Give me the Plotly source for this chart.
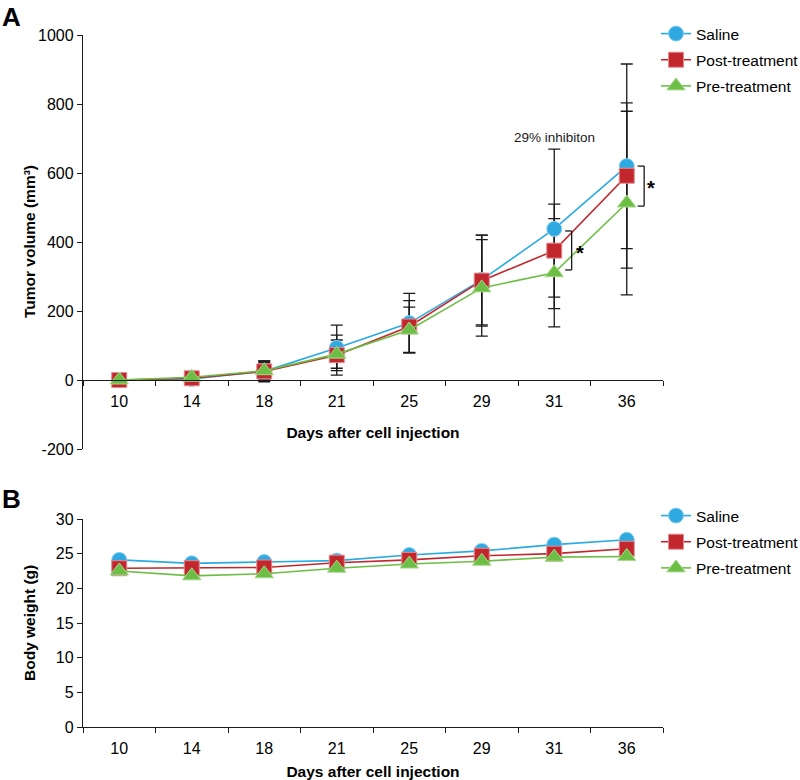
import plotly.graph_objects as go

days = ["10", "14", "18", "21", "25", "29", "31", "36"]
series_names = ["Saline", "Post-treatment", "Pre-treatment"]

# Panel A: tumor volume (mm3), mean and error
saline_vol = [0, 3, 25, 93, 165, 290, 438, 620]
saline_err = [3, 5, 30, 66, 86, 130, 231, 296]
post_vol = [0, 5, 25, 72, 155, 288, 375, 592]
post_err = [3, 5, 25, 58, 75, 132, 135, 211]
pre_vol = [0, 8, 27, 75, 145, 267, 311, 513]
pre_err = [3, 5, 28, 41, 66, 140, 157, 266]
vol_ticks = [-200, 0, 200, 400, 600, 800, 1000]
vol_ticklabels = ["-200", "0", "200", "400", "600", "800", "1000"]

# Panel B: body weight (g)
saline_bw = [24.1, 23.6, 23.8, 24.0, 24.8, 25.4, 26.3, 27.0]
post_bw = [22.9, 22.9, 23.0, 23.7, 24.1, 24.7, 25.0, 25.7]
pre_bw = [22.5, 21.8, 22.1, 22.9, 23.5, 23.9, 24.5, 24.6]

# Significance brackets: (category index, top value, bottom value)
brackets = [(6, 432, 319), (7, 620, 504)]
inhibition_label = "29% inhibiton"

FONT = "Arial, Liberation Sans, sans-serif"
line_colors = ["#29ABE2", "#C1272D", "#6CBE45"]
fill_colors = ["#2EAAE1", "#C1272D", "#6CBE45"]
edge_colors = ["#8CCFEF", "#E58A8E", "#A6D98C"]
symbols = ["circle", "square", "triangle-up"]

W, H = 800, 780
x0, x1 = 83, 663
ya_top, ya_bot = 35, 449
yb_top, yb_bot = 519, 727
dom_x = [x0 / W, x1 / W]
dom_ya = [1 - ya_bot / H, 1 - ya_top / H]
dom_yb = [1 - yb_bot / H, 1 - yb_top / H]
ya_min, ya_max = -200, 1000
zero_pos = dom_ya[0] + (dom_ya[1] - dom_ya[0]) * (0 - ya_min) / (ya_max - ya_min)

fig = go.Figure()

vols = [saline_vol, post_vol, pre_vol]
errs = [saline_err, post_err, pre_err]
bws = [saline_bw, post_bw, pre_bw]

# error bars first (behind markers)
for i in range(3):
    fig.add_trace(go.Scatter(
        x=days, y=vols[i], mode="markers",
        marker=dict(size=1, opacity=0),
        error_y=dict(type="data", array=errs[i], visible=True,
                     color="#1a1a1a", thickness=1.3, width=6),
        showlegend=False, hoverinfo="skip", xaxis="x", yaxis="y"))

for i in range(3):
    fig.add_trace(go.Scatter(
        x=days, y=vols[i], mode="lines+markers", name=series_names[i],
        legendgroup="a%d" % i,
        line=dict(color=line_colors[i], width=1.6),
        marker=dict(symbol=symbols[i], size=15 if i != 2 else 16,
                    color=fill_colors[i],
                    line=dict(color=edge_colors[i], width=1)),
        xaxis="x", yaxis="y", legend="legend"))

for i in range(3):
    fig.add_trace(go.Scatter(
        x=days, y=bws[i], mode="lines+markers", name=series_names[i],
        legendgroup="b%d" % i,
        line=dict(color=line_colors[i], width=1.6),
        marker=dict(symbol=symbols[i], size=15 if i != 2 else 16,
                    color=fill_colors[i],
                    line=dict(color=edge_colors[i], width=1)),
        xaxis="x2", yaxis="y2", legend="legend2"))

shapes = []
for (ci, top, bot) in brackets:
    xv = ci + 0.24
    xl = ci + 0.15
    for seg in [(xl, top, xv, top), (xv, top, xv, bot), (xv, bot, xl, bot)]:
        shapes.append(dict(type="line", xref="x", yref="y",
                           x0=seg[0], y0=seg[1], x1=seg[2], y1=seg[3],
                           line=dict(color="#1a1a1a", width=1.3)))

title_font = dict(size=15.5, family=FONT, color="black")
annotations = [
    dict(text="<b>A</b>", x=0.0, y=1.0, xref="paper", yref="paper",
         xanchor="left", yanchor="top", showarrow=False,
         font=dict(size=26, family=FONT, color="black")),
    dict(text="<b>B</b>", x=0.0, y=1 - 482 / H, xref="paper", yref="paper",
         xanchor="left", yanchor="top", showarrow=False,
         font=dict(size=26, family=FONT, color="black")),
    dict(text="<b>Tumor volume (mm³)</b>", textangle=-90,
         x=29 / W, y=(dom_ya[0] + dom_ya[1]) / 2, xref="paper", yref="paper",
         xanchor="center", yanchor="middle", showarrow=False, font=title_font),
    dict(text="<b>Body weight (g)</b>", textangle=-90,
         x=29 / W, y=(dom_yb[0] + dom_yb[1]) / 2, xref="paper", yref="paper",
         xanchor="center", yanchor="middle", showarrow=False, font=title_font),
    dict(text=inhibition_label, x=6, y=704, xref="x", yref="y",
         showarrow=False, font=dict(size=13.5, family=FONT, color="#1a1a1a")),
    dict(text="<b>*</b>", x=6.36, y=368, xref="x", yref="y",
         showarrow=False, font=dict(size=20, family=FONT, color="black")),
    dict(text="<b>*</b>", x=7.33, y=556, xref="x", yref="y",
         showarrow=False, font=dict(size=20, family=FONT, color="black")),
]

xaxis_common = dict(
    type="category", categoryorder="array", categoryarray=days,
    range=[-0.5, 7.5], domain=dom_x, showline=True, linecolor="#1a1a1a",
    linewidth=1.3, ticks="outside", tickson="boundaries", ticklen=5,
    tickcolor="#1a1a1a", tickwidth=1.3, showgrid=False, zeroline=False,
    automargin=False, ticklabelstandoff=7,
    tickfont=dict(size=16, family=FONT, color="black"),
)

yaxis_common = dict(
    showline=True, linecolor="#1a1a1a", linewidth=1.3,
    ticks="outside", ticklen=5, tickcolor="#1a1a1a", tickwidth=1.3,
    showgrid=False, zeroline=False, automargin=False,
    tickfont=dict(size=16, family=FONT, color="black"),
)

legend_common = dict(
    x=656 / W, xanchor="left", yanchor="top",
    font=dict(size=15.5, family=FONT, color="black"),
    bgcolor="rgba(0,0,0,0)", itemwidth=30, tracegroupgap=3,
)

fig.update_layout(
    width=W, height=H, plot_bgcolor="white", paper_bgcolor="white",
    margin=dict(l=0, r=0, t=0, b=0, autoexpand=False),
    font=dict(family=FONT, color="black"),
    xaxis=dict(**xaxis_common, anchor="free", position=zero_pos,
               title=dict(text="<b>Days after cell injection</b>",
                          font=title_font, standoff=17)),
    yaxis=dict(**yaxis_common, range=[ya_min, ya_max], domain=dom_ya,
               tickvals=vol_ticks, ticktext=vol_ticklabels, anchor="x"),
    xaxis2=dict(**xaxis_common, anchor="y2",
                title=dict(text="<b>Days after cell injection</b>",
                           font=title_font, standoff=11)),
    yaxis2=dict(**yaxis_common, range=[0, 30], domain=dom_yb, dtick=5,
                anchor="x2"),
    legend=dict(**legend_common, y=1 - 17 / H),
    legend2=dict(**legend_common, y=1 - 499 / H),
    shapes=shapes, annotations=annotations,
)

fig.write_html("out.html",
               config={"displayModeBar": False},
               post_script="document.body.style.margin='0';"
                           "document.body.style.overflow='hidden';")
